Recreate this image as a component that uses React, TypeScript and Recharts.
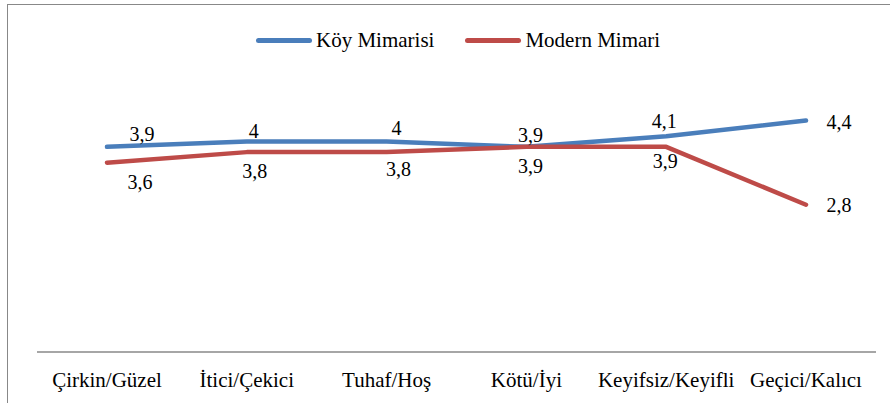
import { LineChart, Line, XAxis, YAxis } from 'recharts';

const categories = ['Çirkin/Güzel', 'İtici/Çekici', 'Tuhaf/Hoş', 'Kötü/İyi', 'Keyifsiz/Keyifli', 'Geçici/Kalıcı'];
const koyMimarisi = [3.9, 4, 4, 3.9, 4.1, 4.4];
const modernMimari = [3.6, 3.8, 3.8, 3.9, 3.9, 2.8];

// label nudges (px) so the value labels sit where the original chart put them
const koyLabelOffset = [[35, -13], [7, -11], [10, -14], [4, -12], [-2, -15], [33, 1]];
const modernLabelOffset = [[33, 19], [8, 19], [12, 17], [4, 19], [-1, 14], [33, 0]];

const SERIES = [
  { key: 'koy', name: 'Köy Mimarisi', color: '#4A7EBB', offsets: koyLabelOffset },
  { key: 'modern', name: 'Modern Mimari', color: '#BE4B48', offsets: modernLabelOffset },
];

const data = categories.map((c, i) => ({ name: c, koy: koyMimarisi[i], modern: modernMimari[i] }));

const FONT = '"Liberation Serif", "Times New Roman", serif';
const fmt = (v: number) => String(v).replace('.', ',');

function makeLabel(offsets: number[][]) {
  return (props: any) => {
    const { x, y, value, index } = props;
    const [dx, dy] = offsets[index] || [0, 0];
    return (
      <text
        key={index}
        x={x + dx}
        y={y + dy}
        dominantBaseline="central"
        textAnchor="middle"
        fontFamily={FONT}
        fontSize={20}
        fill="#000"
      >
        {fmt(value)}
      </text>
    );
  };
}

function LegendBox() {
  return (
    <div
      style={{
        position: 'absolute',
        top: 28,
        left: 256,
        display: 'flex',
        alignItems: 'center',
        fontFamily: FONT,
        fontSize: 21,
        lineHeight: '24px',
        color: '#000',
        whiteSpace: 'nowrap',
      }}
    >
      {SERIES.map((s, i) => (
        <div key={s.key} style={{ display: 'flex', alignItems: 'center', marginRight: i === 0 ? 31 : 0 }}>
          <span style={{ display: 'inline-block', width: 56, height: 5, borderRadius: 3, background: s.color, marginRight: 4 }} />
          <span>{s.name}</span>
        </div>
      ))}
    </div>
  );
}

export default function App() {
  return (
    <div style={{ position: 'absolute', left: 0, top: 0, width: 890, height: 403, background: '#fff' }}>
      <div
        style={{
          position: 'absolute',
          left: 7,
          top: 4,
          width: 883,
          height: 399,
          borderTop: '1.5px solid #888',
          borderLeft: '1.5px solid #888',
        }}
      />
      <LegendBox />
      <LineChart width={890} height={403} data={data} margin={{ top: 89, right: 14, bottom: 0, left: 37 }}>
        <XAxis
          dataKey="name"
          height={51}
          padding={{ left: 70, right: 70 }}
          tickLine={false}
          tickSize={0}
          tickMargin={20}
          axisLine={{ stroke: '#888', strokeWidth: 1.5 }}
          tick={{ fill: '#000', fontSize: 21, fontFamily: FONT }}
          interval={0}
        />
        <YAxis hide domain={[0, 5]} />
        {SERIES.map((s) => (
          <Line
            key={s.key}
            type="linear"
            dataKey={s.key}
            name={s.name}
            stroke={s.color}
            strokeWidth={4.5}
            strokeLinecap="round"
            strokeLinejoin="round"
            dot={false}
            activeDot={false}
            label={makeLabel(s.offsets)}
            isAnimationActive={false}
          />
        ))}
      </LineChart>
    </div>
  );
}
